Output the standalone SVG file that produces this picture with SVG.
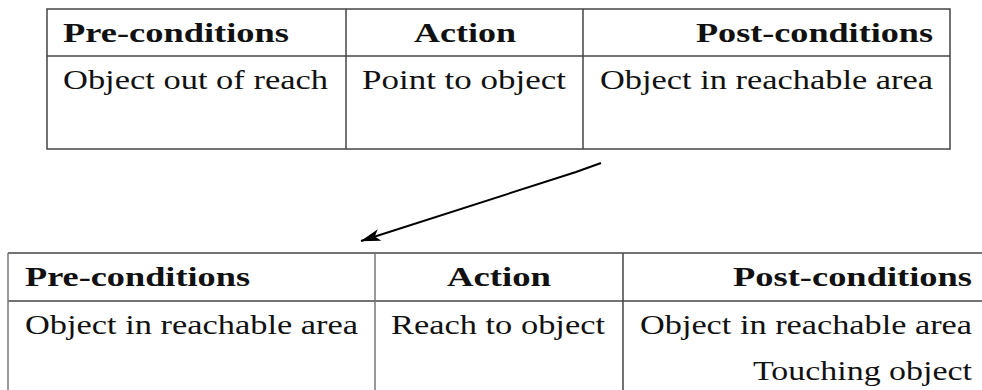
<svg xmlns="http://www.w3.org/2000/svg" width="982" height="390" viewBox="0 0 982 390">
  <style>
    .grid { stroke: #444; stroke-width: 1.5; fill: none; }
    .grid2 { stroke: #777; stroke-width: 1.5; fill: none; }
    .h { font-family: "Liberation Serif", "Times New Roman", serif; font-size: 27px; font-weight: bold; fill: #111; }
    .t { font-family: "Liberation Serif", "Times New Roman", serif; font-size: 27px; fill: #111; }
    .arrow { stroke: #000; stroke-width: 2; fill: none; }
  </style>
  <defs>
    <marker id="ah" viewBox="0 0 20 12" refX="19.5" refY="6" markerWidth="20" markerHeight="12" markerUnits="userSpaceOnUse" orient="auto">
      <path d="M0,0 L20,6 L0,12 L5,6 z" fill="#000"/>
    </marker>
  </defs>
  <rect width="982" height="390" fill="#fff"/>

  <g id="table-top">
    <rect class="grid" x="47" y="9" width="903" height="140"/>
    <line class="grid" x1="47" y1="56" x2="950" y2="56"/>
    <line class="grid" x1="346" y1="9" x2="346" y2="149"/>
    <line class="grid" x1="583" y1="9" x2="583" y2="149"/>
    <text class="h" x="63" y="42" textLength="226" lengthAdjust="spacingAndGlyphs">Pre-conditions</text>
    <text class="h" x="414" y="42" textLength="102" lengthAdjust="spacingAndGlyphs">Action</text>
    <text class="h" x="696" y="42" textLength="237" lengthAdjust="spacingAndGlyphs">Post-conditions</text>
    <text class="t" x="63" y="89" textLength="265" lengthAdjust="spacingAndGlyphs">Object out of reach</text>
    <text class="t" x="362" y="89" textLength="204" lengthAdjust="spacingAndGlyphs">Point to object</text>
    <text class="t" x="600" y="89" textLength="333" lengthAdjust="spacingAndGlyphs">Object in reachable area</text>
  </g>

  <g id="table-bottom">
    <line class="grid" x1="8" y1="253" x2="982" y2="253"/>
    <line class="grid" x1="8" y1="301" x2="982" y2="301"/>
    <line class="grid2" x1="8" y1="253" x2="8" y2="390"/>
    <line class="grid2" x1="375" y1="253" x2="375" y2="390"/>
    <line class="grid" x1="623" y1="253" x2="623" y2="390"/>
    <text class="h" x="25" y="286" textLength="225" lengthAdjust="spacingAndGlyphs">Pre-conditions</text>
    <text class="h" x="447" y="286" textLength="104" lengthAdjust="spacingAndGlyphs">Action</text>
    <text class="h" x="733" y="286" textLength="239" lengthAdjust="spacingAndGlyphs">Post-conditions</text>
    <text class="t" x="25" y="334" textLength="333" lengthAdjust="spacingAndGlyphs">Object in reachable area</text>
    <text class="t" x="391" y="334" textLength="214" lengthAdjust="spacingAndGlyphs">Reach to object</text>
    <text class="t" x="640" y="334" textLength="332" lengthAdjust="spacingAndGlyphs">Object in reachable area</text>
    <text class="t" x="753" y="380" textLength="219" lengthAdjust="spacingAndGlyphs">Touching object</text>
  </g>

  <g id="connectors">
    <polyline class="arrow" points="601,163 576,172 361,241" marker-end="url(#ah)"/>
  </g>
</svg>
